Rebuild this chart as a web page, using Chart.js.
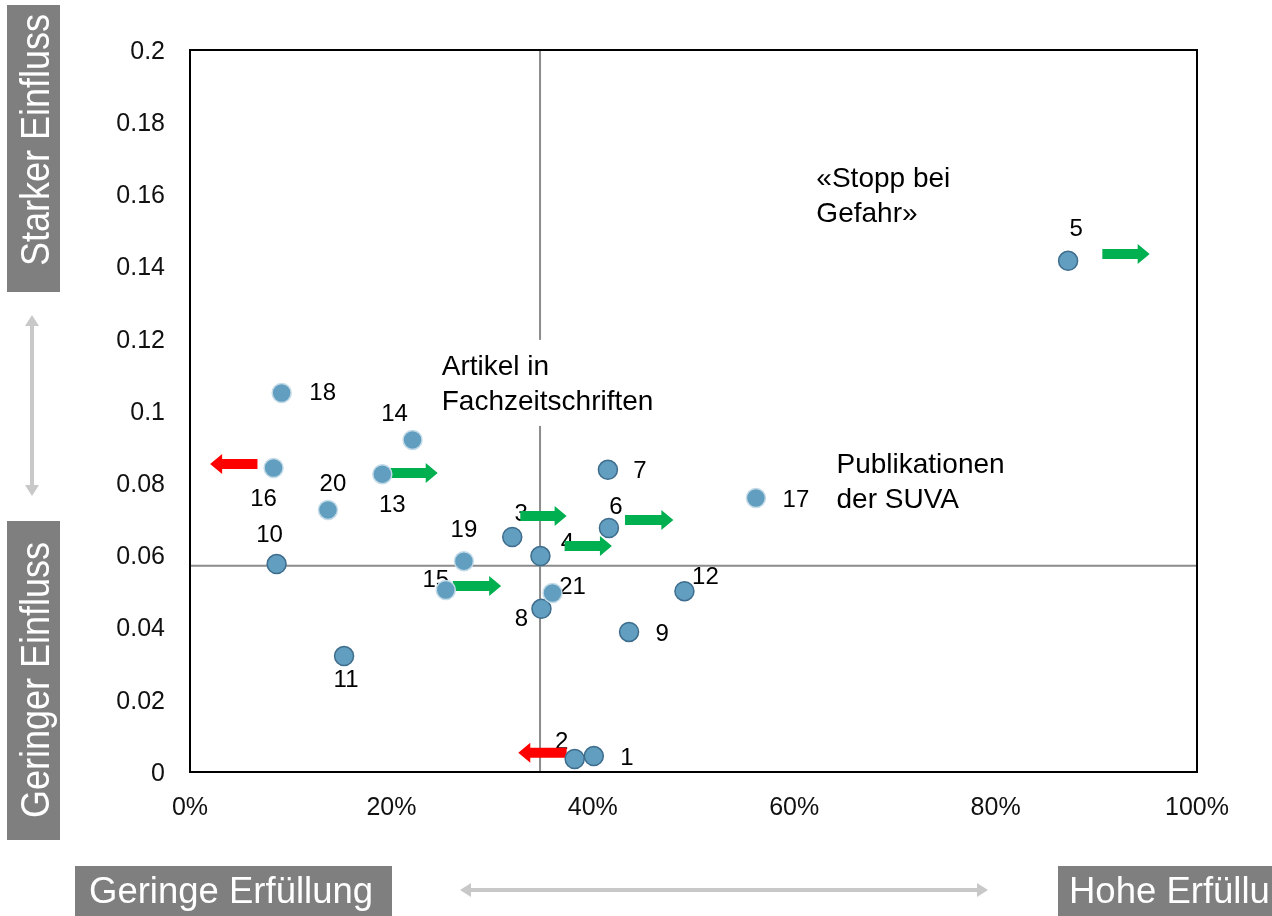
<!DOCTYPE html>
<html>
<head>
<meta charset="utf-8">
<script src="https://cdn.jsdelivr.net/npm/chart.js@4.4.1/dist/chart.umd.min.js"></script>
<style>
  html, body { margin: 0; padding: 0; background: #ffffff; }
  canvas { display: block; }
</style>
</head>
<body>
<canvas id="portfolio" width="1272" height="916"></canvas>
<script>
// Measures 1–21: degree of fulfilment (%) against influence weight
const measureIds = [1, 2, 3, 4, 5, 6, 7, 8, 9, 10, 11, 12, 13, 14, 15, 16, 17, 18, 19, 20, 21];
const fulfilment = [40.1, 38.2, 32.0, 34.8, 87.2, 41.6, 41.5, 34.9, 43.6, 8.6, 15.3, 49.1, 19.1, 22.1, 25.4, 8.3, 56.2, 9.1, 27.2, 13.7, 36.0];
const influence = [0.0044, 0.0036, 0.0651, 0.0598, 0.1416, 0.0676, 0.0837, 0.0452, 0.0388, 0.0576, 0.0321, 0.0501, 0.0825, 0.0920, 0.0504, 0.0842, 0.0759, 0.1050, 0.0584, 0.0726, 0.0496];

// Expected change of fulfilment per measure: arrow tail, arrow head, arrow height
const shiftIds = [5, 13, 3, 4, 6, 15, 16, 2];
const shiftFrom = [90.6, 19.9, 32.8, 37.2, 43.2, 26.1, 6.7, 37.4];
const shiftTo = [95.3, 24.6, 37.4, 41.9, 48.0, 30.9, 2.0, 32.6];
const shiftLevel = [0.1435, 0.0828, 0.0709, 0.0626, 0.0698, 0.0515, 0.0853, 0.0053];

// Quadrant split lines
const splitFulfilment = 34.76;
const splitInfluence = 0.0571;

// Axis ticks
const xTicks = [0, 20, 40, 60, 80, 100];
const xTickLabels = ['0%', '20%', '40%', '60%', '80%', '100%'];
const yTicks = [0, 0.02, 0.04, 0.06, 0.08, 0.1, 0.12, 0.14, 0.16, 0.18, 0.2];
const yTickLabels = ['0', '0.02', '0.04', '0.06', '0.08', '0.1', '0.12', '0.14', '0.16', '0.18', '0.2'];

// ---- presentation ----
const FONT = '"Liberation Sans", Arial, Helvetica, sans-serif';
const pointFill = '#629ebf';
const rimDark = '#3e6d8d';
const rimLight = '#c4dbe8';
const lightRimIds = [13, 14, 15, 16, 17, 18, 19, 20, 21];

// label placement relative to each point (px)
const labelOffset = {
  1: [33, 2], 2: [-13, -17], 3: [9, -23], 4: [27, -13], 5: [8, -31],
  6: [7, -21], 7: [32, 2], 8: [-20, 11], 9: [33, 2], 10: [-7, -29],
  11: [2, 24], 12: [21, -14], 13: [10, 31], 14: [-18, -26], 15: [-10, -10],
  16: [-10, 31], 17: [40, 2], 18: [41, 0], 19: [0, -31], 20: [5, -26], 21: [20, -6]
};

// free text in the plot, anchored at the first line's baseline-left
const notes = [
  { lines: ['«Stopp bei', 'Gefahr»'], x: 62.2, y: 0.162, knockout: false },
  { lines: ['Artikel in', 'Fachzeitschriften'], x: 25.0, y: 0.110, knockout: true },
  { lines: ['Publikationen', 'der SUVA'], x: 64.2, y: 0.0828, knockout: false }
];

function blockArrow(ctx, x1, x2, yy, color) {
  const dir = Math.sign(x2 - x1);
  const head = 12, shaft = 5, half = 10;
  const hx = x2 - dir * head;
  ctx.beginPath();
  ctx.moveTo(x1, yy - shaft);
  ctx.lineTo(hx, yy - shaft);
  ctx.lineTo(hx, yy - half);
  ctx.lineTo(x2, yy);
  ctx.lineTo(hx, yy + half);
  ctx.lineTo(hx, yy + shaft);
  ctx.lineTo(x1, yy + shaft);
  ctx.closePath();
  ctx.fillStyle = color;
  ctx.fill();
}

function doubleArrow(ctx, x1, y1, x2, y2) {
  const ang = Math.atan2(y2 - y1, x2 - x1);
  const len = 11, w = 7;
  ctx.save();
  ctx.strokeStyle = '#c8c8c8';
  ctx.fillStyle = '#c8c8c8';
  ctx.lineWidth = 4;
  ctx.beginPath();
  ctx.moveTo(x1 + Math.cos(ang) * len, y1 + Math.sin(ang) * len);
  ctx.lineTo(x2 - Math.cos(ang) * len, y2 - Math.sin(ang) * len);
  ctx.stroke();
  [[x1, y1, ang + Math.PI], [x2, y2, ang]].forEach(([px, py, a]) => {
    ctx.beginPath();
    ctx.moveTo(px, py);
    ctx.lineTo(px - Math.cos(a) * len + Math.sin(a) * w, py - Math.sin(a) * len - Math.cos(a) * w);
    ctx.lineTo(px - Math.cos(a) * len - Math.sin(a) * w, py - Math.sin(a) * len + Math.cos(a) * w);
    ctx.closePath();
    ctx.fill();
  });
  ctx.restore();
}

function greyPanel(ctx, x, y, w, h) {
  ctx.fillStyle = '#7f7f7f';
  ctx.fillRect(x, y, w, h);
}

const overlay = {
  id: 'overlay',
  beforeDatasetsDraw(chart) {
    const { ctx, chartArea: a, scales: { x, y } } = chart;
    ctx.save();

    // quadrant split lines
    const mx = x.getPixelForValue(splitFulfilment);
    const my = y.getPixelForValue(splitInfluence);
    ctx.strokeStyle = '#8c8c8c';
    ctx.lineWidth = 2;
    ctx.beginPath();
    ctx.moveTo(mx, a.top); ctx.lineTo(mx, a.bottom);
    ctx.moveTo(a.left, my); ctx.lineTo(a.right, my);
    ctx.stroke();

    // notes
    ctx.font = '28px ' + FONT;
    ctx.textAlign = 'left';
    ctx.textBaseline = 'alphabetic';
    const lh = 35;
    notes.forEach(n => {
      const nx = x.getPixelForValue(n.x);
      const ny = y.getPixelForValue(n.y);
      if (n.knockout) {
        const w = Math.max(...n.lines.map(t => ctx.measureText(t).width));
        ctx.fillStyle = '#ffffff';
        ctx.fillRect(nx - 6, ny - 35, w + 12, lh * (n.lines.length - 1) + 51);
      }
      ctx.fillStyle = '#000000';
      n.lines.forEach((t, i) => ctx.fillText(t, nx, ny + i * lh));
    });

    // point numbers
    ctx.font = '24px ' + FONT;
    ctx.textAlign = 'center';
    ctx.textBaseline = 'middle';
    ctx.fillStyle = '#000000';
    measureIds.forEach((id, i) => {
      const px = x.getPixelForValue(fulfilment[i]);
      const py = y.getPixelForValue(influence[i]);
      const [dx, dy] = labelOffset[id];
      ctx.fillText(String(id), px + dx, py + dy);
    });

    // expected shifts
    shiftIds.forEach((id, i) => {
      const x1 = x.getPixelForValue(shiftFrom[i]);
      const x2 = x.getPixelForValue(shiftTo[i]);
      const yy = y.getPixelForValue(shiftLevel[i]);
      blockArrow(ctx, x1, x2, yy, shiftTo[i] > shiftFrom[i] ? '#00b050' : '#ff0000');
    });
    ctx.restore();
  },
  afterDraw(chart) {
    const { ctx, chartArea: a } = chart;
    ctx.save();

    // plot frame
    ctx.strokeStyle = '#000000';
    ctx.lineWidth = 2;
    ctx.strokeRect(a.left, a.top, a.right - a.left, a.bottom - a.top);

    // vertical axis captions
    greyPanel(ctx, 7, 5, 53, 287);
    greyPanel(ctx, 7, 521, 53, 319);
    ctx.fillStyle = '#ffffff';
    ctx.font = '40px ' + FONT;
    ctx.textAlign = 'center';
    ctx.textBaseline = 'alphabetic';
    [['Starker Einfluss', 140], ['Geringer Einfluss', 680]].forEach(([t, cy]) => {
      ctx.save();
      ctx.translate(49, cy);
      ctx.rotate(-Math.PI / 2);
      ctx.scale(0.9, 1);
      ctx.fillText(t, 0, 0);
      ctx.restore();
    });
    doubleArrow(ctx, 32, 315, 32, 496);

    // horizontal axis captions
    greyPanel(ctx, 75, 866, 317, 50);
    greyPanel(ctx, 1058, 866, 214, 50);
    ctx.fillStyle = '#ffffff';
    ctx.font = '36.5px ' + FONT;
    ctx.textAlign = 'left';
    ctx.fillText('Geringe Erfüllung', 89, 903);
    ctx.fillText('Hohe Erfüllung', 1069, 903);
    doubleArrow(ctx, 460, 890, 988, 890);

    ctx.restore();
  }
};

new Chart(document.getElementById('portfolio'), {
  type: 'scatter',
  data: {
    datasets: [{
      data: measureIds.map((id, i) => ({ x: fulfilment[i], y: influence[i] })),
      pointRadius: 9.5,
      pointHoverRadius: 9.5,
      backgroundColor: pointFill,
      borderColor: measureIds.map(id => lightRimIds.includes(id) ? rimLight : rimDark),
      borderWidth: 1.5
    }]
  },
  options: {
    responsive: false,
    animation: false,
    devicePixelRatio: 1,
    events: [],
    layout: { padding: { top: 50, right: 75, left: 0, bottom: 0 } },
    plugins: { legend: { display: false }, tooltip: { enabled: false } },
    scales: {
      x: {
        type: 'linear', min: 0, max: 100,
        grid: { display: false, drawTicks: false },
        border: { display: false },
        afterBuildTicks: s => { s.ticks = xTicks.map(v => ({ value: v })); },
        afterFit: s => { s.height = 144; },
        ticks: {
          padding: 21, color: '#111111',
          font: { family: FONT, size: 25 },
          callback: (v, i) => xTickLabels[i]
        }
      },
      y: {
        type: 'linear', min: 0, max: 0.2,
        grid: { display: false, drawTicks: false },
        border: { display: false },
        afterBuildTicks: s => { s.ticks = yTicks.map(v => ({ value: v })); },
        afterFit: s => { s.width = 190; },
        ticks: {
          padding: 25, color: '#111111', labelOffset: 2,
          font: { family: FONT, size: 25 },
          callback: (v, i) => yTickLabels[i]
        }
      }
    }
  },
  plugins: [overlay]
});
</script>
</body>
</html>
